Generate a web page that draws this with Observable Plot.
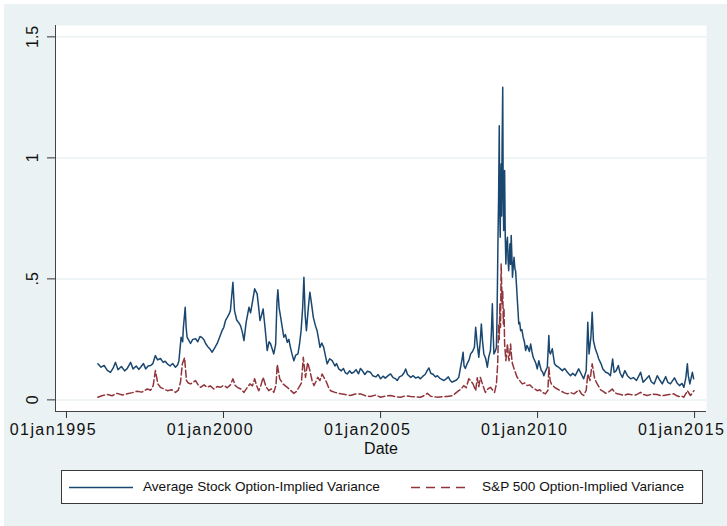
<!DOCTYPE html>
<html>
<head>
<meta charset="utf-8">
<script src="https://cdn.jsdelivr.net/npm/d3@7"></script>
<script src="https://cdn.jsdelivr.net/npm/@observablehq/plot@0.6"></script>
<style>
  body { margin: 0; background: #ffffff; width: 727px; height: 526px; overflow: hidden; position: relative; font-family: "Liberation Sans", Arial, sans-serif; }
  #bg { position: absolute; left: 4px; top: 4px; width: 723px; height: 522px; background: #eaf2f3; }
  #chart { position: absolute; left: 0; top: 0; }
  #legend { position: absolute; left: 61px; top: 470px; width: 642px; height: 34px; background: #ffffff; border: 1px solid #3a3a3a; box-sizing: border-box; }
  #legend svg { position: absolute; left: 0; top: 0; }
  #legend span { position: absolute; top: 8px; font-size: 13.6px; color: #111; white-space: nowrap; }
</style>
</head>
<body>
<div id="bg"></div>
<div id="chart"></div>
<div id="legend"></div>
<script>
// ---- data (decimal year, value) ----
const avgYears = [
1996.00,1996.10,1996.20,1996.30,1996.40,1996.48,1996.56,1996.64,1996.75,1996.85,1996.93,
1997.04,1997.12,1997.22,1997.30,1997.36,1997.45,1997.52,1997.60,1997.68,1997.75,1997.83,1997.90,1997.99,
1998.08,1998.14,1998.21,1998.30,1998.38,1998.47,1998.54,1998.58,1998.65,1998.70,1998.72,1998.78,1998.81,1998.84,1998.90,1998.95,
1999.02,1999.11,1999.18,1999.25,1999.32,1999.38,1999.43,1999.50,1999.57,1999.64,1999.72,1999.80,1999.88,1999.95,
2000.01,2000.07,2000.12,2000.18,2000.22,2000.30,2000.35,2000.42,2000.48,2000.54,2000.60,2000.65,2000.72,2000.81,2000.86,2000.91,2000.99,
2001.07,2001.12,2001.16,2001.21,2001.26,2001.32,2001.39,2001.45,2001.50,2001.55,2001.60,2001.66,2001.70,2001.73,2001.77,2001.82,2001.87,2001.92,2001.97,
2002.03,2002.08,2002.13,2002.18,2002.24,2002.30,2002.37,2002.42,2002.47,2002.52,2002.56,2002.60,2002.64,2002.70,2002.75,2002.80,2002.86,2002.92,2002.98,
2003.03,2003.07,2003.13,2003.19,2003.25,2003.30,2003.38,2003.46,2003.55,2003.60,2003.67,2003.75,2003.82,2003.88,2003.94,
2004.02,2004.08,2004.15,2004.22,2004.30,2004.36,2004.42,2004.50,2004.58,2004.68,2004.75,2004.85,2004.92,
2005.00,2005.08,2005.15,2005.24,2005.32,2005.40,2005.47,2005.53,2005.60,2005.68,2005.75,2005.80,2005.86,2005.96,
2006.04,2006.12,2006.20,2006.27,2006.35,2006.42,2006.48,2006.54,2006.60,2006.68,2006.75,2006.81,2006.88,2006.95,
2007.02,2007.10,2007.16,2007.22,2007.28,2007.35,2007.42,2007.49,2007.55,2007.60,2007.63,2007.66,2007.70,2007.76,2007.82,2007.87,2007.93,2007.99,
2008.03,2008.08,2008.13,2008.18,2008.21,2008.25,2008.29,2008.35,2008.40,2008.45,2008.50,2008.53,2008.56,2008.59,2008.61,2008.65,2008.69,2008.71,
2008.74,2008.76,2008.78,2008.795,2008.81,2008.825,2008.84,2008.855,2008.87,2008.89,2008.905,2008.92,2008.935,2008.95,2008.97,2008.99,
2009.01,2009.04,2009.06,2009.08,2009.10,2009.12,2009.14,2009.16,2009.18,2009.20,2009.23,2009.25,2009.28,2009.30,2009.33,2009.35,2009.38,2009.40,
2009.43,2009.46,2009.50,2009.54,2009.58,2009.62,2009.66,2009.69,2009.74,2009.78,2009.82,2009.86,2009.90,2009.95,2009.99,
2010.04,2010.08,2010.12,2010.16,2010.20,2010.25,2010.31,2010.36,2010.38,2010.41,2010.47,2010.54,2010.60,2010.67,2010.73,2010.79,2010.86,2010.95,
2011.05,2011.12,2011.20,2011.31,2011.40,2011.47,2011.55,2011.60,2011.64,2011.70,2011.74,2011.78,2011.84,2011.90,2011.95,
2012.02,2012.08,2012.17,2012.25,2012.32,2012.39,2012.44,2012.50,2012.57,2012.63,2012.70,2012.78,2012.86,2012.96,
2013.05,2013.15,2013.28,2013.36,2013.45,2013.55,2013.62,2013.71,2013.81,2013.90,2013.97,
2014.08,2014.15,2014.23,2014.36,2014.44,2014.52,2014.60,2014.66,2014.72,2014.77,2014.80,2014.85,2014.93,2014.97
];
const avgValues = [
0.149,0.135,0.142,0.122,0.114,0.130,0.155,0.125,0.138,0.120,0.129,
0.155,0.128,0.140,0.126,0.135,0.150,0.128,0.140,0.142,0.150,0.183,0.165,0.171,
0.155,0.160,0.149,0.140,0.150,0.135,0.145,0.162,0.259,0.240,0.295,0.383,0.300,0.259,0.245,0.233,
0.250,0.253,0.240,0.262,0.257,0.248,0.233,0.220,0.210,0.197,0.215,0.233,0.260,0.285,
0.300,0.330,0.341,0.355,0.369,0.486,0.369,0.330,0.320,0.307,0.280,0.245,0.320,0.383,0.360,0.397,0.459,
0.438,0.380,0.328,0.350,0.376,0.300,0.204,0.240,0.231,0.210,0.190,0.230,0.400,0.455,0.380,0.341,0.300,0.259,0.270,
0.238,0.250,0.217,0.190,0.162,0.185,0.190,0.230,0.286,0.380,0.507,0.350,0.286,0.380,0.445,0.400,0.341,0.310,0.286,
0.250,0.217,0.235,0.217,0.180,0.149,0.170,0.162,0.140,0.150,0.128,0.120,0.130,0.112,0.107,
0.120,0.110,0.114,0.125,0.108,0.130,0.121,0.105,0.118,0.114,0.100,0.095,0.105,
0.087,0.098,0.090,0.100,0.107,0.092,0.088,0.080,0.095,0.100,0.112,0.128,0.105,0.093,
0.100,0.090,0.095,0.087,0.098,0.105,0.120,0.132,0.110,0.105,0.095,0.100,0.090,0.085,
0.080,0.088,0.095,0.080,0.073,0.078,0.082,0.093,0.135,0.170,0.197,0.140,0.130,0.150,0.165,0.190,0.200,0.217,
0.300,0.230,0.176,0.250,0.314,0.240,0.190,0.170,0.135,0.180,0.204,0.280,0.397,0.260,0.190,0.200,0.217,0.350,
0.672,0.850,1.133,0.780,0.672,0.880,0.975,0.760,1.050,1.292,0.850,0.700,0.820,0.948,0.680,0.562,
0.640,0.672,0.580,0.534,0.600,0.645,0.560,0.679,0.600,0.507,0.560,0.589,0.540,0.534,0.470,0.424,0.360,0.314,
0.320,0.286,0.290,0.259,0.240,0.204,0.225,0.217,0.200,0.231,0.200,0.176,0.165,0.149,0.128,
0.162,0.140,0.121,0.115,0.100,0.118,0.135,0.266,0.200,0.190,0.211,0.149,0.140,0.135,0.128,0.121,0.130,0.114,
0.100,0.110,0.100,0.128,0.105,0.087,0.121,0.321,0.190,0.260,0.362,0.245,0.211,0.190,0.169,
0.150,0.128,0.114,0.110,0.100,0.169,0.114,0.120,0.142,0.110,0.093,0.121,0.100,0.087,
0.092,0.080,0.114,0.073,0.085,0.100,0.075,0.066,0.100,0.080,0.066,
0.096,0.072,0.066,0.091,0.070,0.059,0.068,0.052,0.090,0.149,0.100,0.066,0.114,0.087
];
const spYears = [
1996.00,1996.15,1996.30,1996.45,1996.61,1996.78,1996.93,1997.10,1997.25,1997.40,1997.57,1997.68,1997.76,1997.83,1997.91,1997.99,
1998.10,1998.21,1998.35,1998.47,1998.56,1998.63,1998.69,1998.76,1998.82,1998.88,1998.95,1999.03,1999.11,1999.20,1999.27,1999.38,1999.48,1999.58,1999.69,1999.80,1999.90,
2000.01,2000.12,2000.22,2000.30,2000.37,2000.44,2000.55,2000.65,2000.75,2000.84,2000.92,2000.99,2001.05,2001.12,2001.19,2001.26,2001.35,2001.44,2001.52,2001.60,2001.67,2001.71,2001.79,2001.90,
2002.03,2002.13,2002.24,2002.32,2002.40,2002.48,2002.54,2002.61,2002.68,2002.75,2002.82,2002.88,2002.94,2003.00,2003.07,2003.14,2003.21,2003.28,2003.35,2003.41,2003.57,2003.73,2003.88,
2004.04,2004.20,2004.36,2004.52,2004.68,2004.84,2005.00,2005.16,2005.32,2005.48,2005.64,2005.80,2005.96,2006.12,2006.27,2006.40,2006.49,2006.60,2006.81,2006.96,
2007.12,2007.30,2007.49,2007.57,2007.65,2007.73,2007.81,2007.87,2007.95,2008.03,2008.08,2008.13,2008.18,2008.26,2008.34,2008.42,2008.50,2008.57,2008.63,2008.69,
2008.73,2008.76,2008.78,2008.80,2008.82,2008.84,2008.87,2008.89,2008.91,2008.93,2008.95,2008.99,2009.02,2009.04,2009.07,2009.09,2009.12,2009.14,2009.17,2009.20,2009.27,2009.35,2009.43,2009.51,2009.59,2009.67,2009.75,2009.83,2009.91,2009.99,
2010.07,2010.15,2010.25,2010.33,2010.36,2010.40,2010.44,2010.54,2010.63,2010.73,2010.84,2010.95,2011.05,2011.16,2011.24,2011.32,2011.40,2011.47,2011.55,2011.60,2011.67,2011.74,2011.82,2011.90,2012.01,
2012.09,2012.17,2012.28,2012.38,2012.46,2012.54,2012.65,2012.75,2012.86,2012.96,2013.12,2013.28,2013.38,2013.49,2013.65,2013.81,2013.92,2014.02,2014.18,2014.34,2014.42,2014.50,2014.58,2014.66,2014.77,2014.87,2014.98
];
const spValues = [
0.011,0.018,0.022,0.017,0.027,0.020,0.025,0.030,0.036,0.032,0.045,0.040,0.059,0.121,0.066,0.052,
0.045,0.038,0.042,0.031,0.040,0.073,0.149,0.174,0.080,0.070,0.066,0.072,0.080,0.060,0.052,0.062,0.052,0.058,0.045,0.055,0.052,
0.060,0.050,0.062,0.087,0.060,0.052,0.045,0.031,0.050,0.066,0.058,0.087,0.060,0.038,0.060,0.093,0.055,0.038,0.045,0.031,0.060,0.146,0.087,0.065,
0.052,0.040,0.027,0.035,0.052,0.070,0.176,0.093,0.155,0.121,0.080,0.059,0.075,0.093,0.080,0.107,0.090,0.073,0.050,0.038,0.030,0.025,0.022,
0.018,0.024,0.025,0.017,0.014,0.020,0.011,0.016,0.018,0.013,0.011,0.017,0.014,0.012,0.011,0.018,0.027,0.015,0.011,0.013,
0.014,0.018,0.038,0.045,0.059,0.050,0.087,0.080,0.065,0.038,0.091,0.055,0.093,0.060,0.031,0.045,0.052,0.040,0.031,0.066,
0.150,0.314,0.250,0.397,0.300,0.562,0.397,0.450,0.314,0.380,0.231,0.162,0.200,0.231,0.180,0.162,0.200,0.231,0.180,0.149,0.121,0.093,0.080,0.066,0.070,0.059,0.062,0.052,0.045,0.038,
0.042,0.031,0.025,0.040,0.135,0.080,0.066,0.052,0.045,0.038,0.030,0.025,0.030,0.025,0.033,0.041,0.025,0.018,0.040,0.107,0.080,0.149,0.087,0.066,0.041,
0.035,0.027,0.034,0.045,0.030,0.025,0.022,0.018,0.024,0.022,0.020,0.031,0.022,0.018,0.024,0.022,0.017,0.018,0.022,0.025,0.018,0.014,0.016,0.011,0.038,0.018,0.038
];
const xTickYears = [1995, 2000, 2005, 2010, 2015];
const yTicks = [0, 0.5, 1, 1.5];
const yTickLabels = ["0", ".5", "1", "1.5"];
const seriesNames = ["Average Stock Option-Implied Variance", "S&P 500 Option-Implied Variance"];
const seriesColors = ["#1a476f", "#90353b"];

// ---- helpers ----
function toDate(y) {
  const yr = Math.floor(y);
  const a = Date.UTC(yr, 0, 1), b = Date.UTC(yr + 1, 0, 1);
  return new Date(a + (y - yr) * (b - a));
}
const avg = avgYears.map((y, i) => ({date: toDate(y), value: avgValues[i]}));
const sp = spYears.map((y, i) => ({date: toDate(y), value: spValues[i]}));
const xDomain = [toDate(1994.65), toDate(2015.38)];
const yDomain = [-0.048, 1.547];
const xTickDates = xTickYears.map(y => toDate(y));
const font = '"Liberation Sans", Arial, sans-serif';

const chart = Plot.plot({
  width: 727,
  height: 462,
  marginLeft: 55,
  marginRight: 21,
  marginTop: 25,
  marginBottom: 51,
  style: {background: "transparent", fontFamily: font, fontSize: "16px", color: "#111"},
  x: {type: "utc", domain: xDomain},
  y: {domain: yDomain},
  marks: [
    Plot.frame({fill: "white", stroke: null}),
    Plot.gridY(yTicks, {stroke: "#eaf2f3", strokeOpacity: 1, strokeWidth: 1.5}),
    Plot.line(avg, {x: "date", y: "value", stroke: seriesColors[0], strokeWidth: 1.5}),
    Plot.line(sp, {x: "date", y: "value", stroke: seriesColors[1], strokeWidth: 1.5, strokeDasharray: "7,3"}),
    Plot.ruleX([xDomain[0]], {stroke: "#444", strokeWidth: 1}),
    Plot.ruleY([yDomain[0]], {stroke: "#444", strokeWidth: 1}),
    // x tick marks
    Plot.axisX(xTickDates, {tickSize: 7, stroke: "#333", tickFormat: () => "", label: null}),
    // x tick labels (Stata places them slightly left of the tick)
    Plot.axisX(xTickDates, {
      tickSize: 0, tickPadding: 12, fill: "#111", fontSize: 16, dx: -13, strokeOpacity: 0,
      tickFormat: d => "01jan" + d.getUTCFullYear(), label: null
    }),
    Plot.axisY(yTicks, {
      tickSize: 8, tickPadding: 10, stroke: "#333", fill: "#111", fontSize: 16,
      tickRotate: -90, tickFormat: d => yTickLabels[yTicks.indexOf(d)], label: null
    }),
    Plot.text(["Date"], {frameAnchor: "bottom", dy: 42, text: d => d, fontSize: 16, fill: "#111"})
  ]
});
document.getElementById("chart").appendChild(chart);
d3.select(chart).selectAll('[aria-label="x-axis tick label"] text').style("letter-spacing", "1.4px");

// ---- legend ----
const legend = document.getElementById("legend");
const ls = d3.select(legend).append("svg").attr("width", 642).attr("height", 34);
ls.append("line").attr("x1", 7).attr("x2", 71).attr("y1", 16.5).attr("y2", 16.5)
  .attr("stroke", seriesColors[0]).attr("stroke-width", 1.3);
ls.append("line").attr("x1", 349).attr("x2", 409).attr("y1", 16.5).attr("y2", 16.5)
  .attr("stroke", seriesColors[1]).attr("stroke-width", 1.3).attr("stroke-dasharray", "9,6");
const s1 = document.createElement("span"); s1.textContent = seriesNames[0]; s1.style.left = "81px"; legend.appendChild(s1);
const s2 = document.createElement("span"); s2.textContent = seriesNames[1]; s2.style.left = "420px"; legend.appendChild(s2);
</script>
</body>
</html>
